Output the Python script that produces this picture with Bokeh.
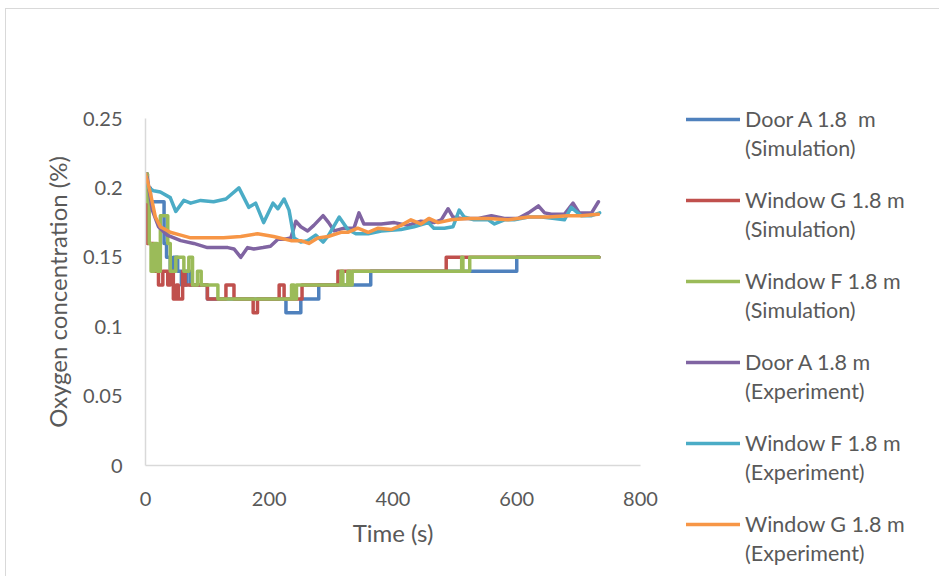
from bokeh.plotting import figure
from bokeh.models import Range1d, FixedTicker, Legend, LegendItem
from bokeh.embed import file_html
from bokeh.resources import INLINE

# ---- data ----
series_names_1 = ["Door A 1.8  m", "Window G 1.8 m", "Window F 1.8 m",
                  "Door A 1.8 m", "Window F 1.8 m", "Window G 1.8 m"]
series_names_2 = ["(Simulation)", "(Simulation)", "(Simulation)",
                  "(Experiment)", "(Experiment)", "(Experiment)"]
colors = ["#4F81BD", "#C0504D", "#9BBB59", "#8064A2", "#4BACC6", "#F79646"]

# Simulation series (step data)
door_a_sim_t = [0, 3, 8, 30, 34, 40, 45, 52, 58, 66, 72, 100, 227, 251, 280, 364, 600, 733]
door_a_sim_v = [0.21, 0.20, 0.19, 0.16, 0.15, 0.14, 0.15, 0.14, 0.13, 0.14, 0.13, 0.12,
                0.11, 0.12, 0.13, 0.14, 0.15, 0.15]

window_g_sim_t = [0, 3, 13, 21, 28, 36, 40, 45, 50, 53, 60, 64, 100, 130, 143, 174, 181,
                  216, 224, 253, 311, 486, 733]
window_g_sim_v = [0.21, 0.16, 0.14, 0.13, 0.14, 0.13, 0.14, 0.12, 0.13, 0.12, 0.14, 0.13,
                  0.12, 0.13, 0.12, 0.11, 0.12, 0.13, 0.12, 0.13, 0.14, 0.15, 0.15]

window_f_sim_t = [0, 3, 6, 9, 14, 19, 24, 36, 40, 49, 62, 70, 76, 84, 90, 117, 236, 240,
                  244, 316, 319, 327, 331, 334, 511, 513, 524, 733]
window_f_sim_v = [0.21, 0.19, 0.16, 0.14, 0.16, 0.14, 0.18, 0.16, 0.14, 0.15, 0.14, 0.15,
                  0.13, 0.14, 0.13, 0.12, 0.13, 0.12, 0.13, 0.14, 0.13, 0.14, 0.13, 0.14,
                  0.15, 0.14, 0.15, 0.15]

# Experimental series
door_a_exp_t = [0, 3, 11, 21, 35, 57, 78, 100, 133, 143, 154, 165, 175, 190, 202, 214, 225,
                235, 243, 251, 262, 272, 287, 296, 305, 321, 337, 345, 353, 365, 381, 402,
                424, 445, 466, 478, 489, 497, 510, 538, 559, 580, 602, 619, 635, 645, 656,
                677, 691, 701, 721, 732]
door_a_exp_v = [0.21, 0.207, 0.184, 0.172, 0.166, 0.162, 0.16, 0.157, 0.157, 0.156, 0.15,
                0.157, 0.156, 0.157, 0.158, 0.163, 0.163, 0.164, 0.176, 0.172, 0.169, 0.173,
                0.18, 0.175, 0.169, 0.171, 0.171, 0.182, 0.174, 0.174, 0.174, 0.175, 0.173,
                0.176, 0.175, 0.177, 0.185, 0.179, 0.178, 0.178, 0.18, 0.178, 0.178, 0.182,
                0.187, 0.182, 0.181, 0.181, 0.189, 0.182, 0.182, 0.19]

window_f_exp_t = [0, 5, 13, 24, 40, 49, 62, 73, 89, 110, 130, 151, 167, 178, 191, 206, 214,
                  224, 232, 240, 251, 262, 275, 287, 296, 313, 327, 340, 360, 381, 413, 434,
                  457, 466, 483, 497, 507, 515, 531, 554, 564, 580, 596, 619, 640, 661, 677,
                  688, 704, 721, 734]
window_f_exp_v = [0.21, 0.2, 0.198, 0.197, 0.193, 0.183, 0.191, 0.189, 0.191, 0.19, 0.192,
                  0.20, 0.186, 0.189, 0.175, 0.189, 0.185, 0.192, 0.184, 0.164, 0.161, 0.162,
                  0.166, 0.161, 0.166, 0.179, 0.17, 0.167, 0.167, 0.169, 0.17, 0.172, 0.175,
                  0.171, 0.171, 0.172, 0.184, 0.179, 0.177, 0.177, 0.174, 0.177, 0.177,
                  0.179, 0.179, 0.178, 0.177, 0.186, 0.18, 0.18, 0.182]

window_g_exp_t = [0, 3, 8, 16, 24, 40, 57, 73, 100, 126, 154, 181, 207, 235, 251, 264, 279,
                  295, 316, 327, 343, 360, 376, 397, 413, 429, 445, 458, 473, 494, 521, 554,
                  586, 619, 651, 683, 704, 732]
window_g_exp_v = [0.21, 0.205, 0.196, 0.179, 0.172, 0.168, 0.166, 0.164, 0.164, 0.164, 0.165,
                  0.167, 0.165, 0.162, 0.162, 0.16, 0.164, 0.165, 0.168, 0.168, 0.171, 0.168,
                  0.171, 0.17, 0.173, 0.177, 0.174, 0.178, 0.175, 0.177, 0.178, 0.178, 0.177,
                  0.179, 0.179, 0.18, 0.18, 0.181]

x_ticks = [0, 200, 400, 600, 800]
y_ticks = [0, 0.05, 0.1, 0.15, 0.2, 0.25]
y_tick_labels = ["0", "0.05", "0.1", "0.15", "0.2", "0.25"]

FONT = "Lato"
TXT = "#595959"

# ---------------- main chart ----------------
p = figure(width=934, height=568, output_backend="svg", toolbar_location=None,
           x_range=Range1d(0, 800), y_range=Range1d(0, 0.25),
           min_border_left=139, min_border_right=300, min_border_top=109,
           min_border_bottom=112)
p.margin = (8, 0, 0, 5)
p.styles = {"border-left": "1px solid #d9d9d9", "border-top": "1px solid #d9d9d9"}
p.grid.visible = False
p.outline_line_color = None

p.xaxis.ticker = FixedTicker(ticks=x_ticks)
p.yaxis.ticker = FixedTicker(ticks=y_ticks)
p.yaxis.major_label_overrides = {v: s for v, s in zip(y_ticks, y_tick_labels)}
for ax in (p.xaxis[0], p.yaxis[0]):
    ax.axis_line_color = "#d9d9d9"
    ax.axis_line_width = 1.5
    ax.major_tick_line_color = None
    ax.minor_tick_line_color = None
    ax.major_label_text_font = FONT
    ax.major_label_text_font_size = "20px"
    ax.major_label_text_color = TXT
    ax.axis_label_text_font = FONT
    ax.axis_label_text_font_size = "24px"
    ax.axis_label_text_font_style = "normal"
    ax.axis_label_text_color = TXT
p.xaxis.axis_label = "Time (s)"
p.yaxis.axis_label = "Oxygen concentration (%)"
p.xaxis.major_label_standoff = 20
p.yaxis.major_label_standoff = 17
p.xaxis.axis_label_standoff = 9
p.yaxis.axis_label_standoff = 8

LW = 3.5
kw = dict(line_width=LW, line_join="round", line_cap="round")
r1 = p.step(door_a_sim_t, door_a_sim_v, mode="after", color=colors[0], **kw)
r2 = p.step(window_g_sim_t, window_g_sim_v, mode="after", color=colors[1], **kw)
r3 = p.step(window_f_sim_t, window_f_sim_v, mode="after", color=colors[2], **kw)
r4 = p.line(door_a_exp_t, door_a_exp_v, color=colors[3], **kw)
r5 = p.line(window_f_exp_t, window_f_exp_v, color=colors[4], **kw)
r6 = p.line(window_g_exp_t, window_g_exp_v, color=colors[5], **kw)

# ---------------- legend overlay (separate transparent figure) ----------------
p2 = figure(width=261, height=578, output_backend="svg", toolbar_location=None,
            x_axis_location=None, y_axis_location=None,
            x_range=Range1d(0, 1), y_range=Range1d(0, 1),
            min_border_left=0, min_border_right=0, min_border_top=0,
            min_border_bottom=0)
p2.styles = {"position": "absolute", "left": "680px", "top": "0px"}
p2.grid.visible = False
p2.outline_line_color = None
p2.border_fill_color = None
p2.background_fill_color = None

nan = float("nan")
swatches = [p2.line(x=[nan], y=[nan], color=c, **kw) for c in colors]
blank = p2.line(x=[], y=[], line_alpha=0)

common = dict(padding=0, margin=0, border_line_color=None, background_fill_alpha=0,
              glyph_width=54, glyph_height=10, label_height=27, spacing=54,
              label_standoff=5, label_text_font=FONT, label_text_font_size="21.5px",
              label_text_color=TXT)
legend_a = Legend(items=[LegendItem(label=n, renderers=[s])
                         for n, s in zip(series_names_1, swatches)],
                  location=(6, 40.5), **common)
legend_b = Legend(items=[LegendItem(label=n, renderers=[blank]) for n in series_names_2],
                  location=(6, 11.5), **common)
p2.add_layout(legend_a)
p2.add_layout(legend_b)

open("out.html", "w").write(file_html([p, p2], INLINE))
